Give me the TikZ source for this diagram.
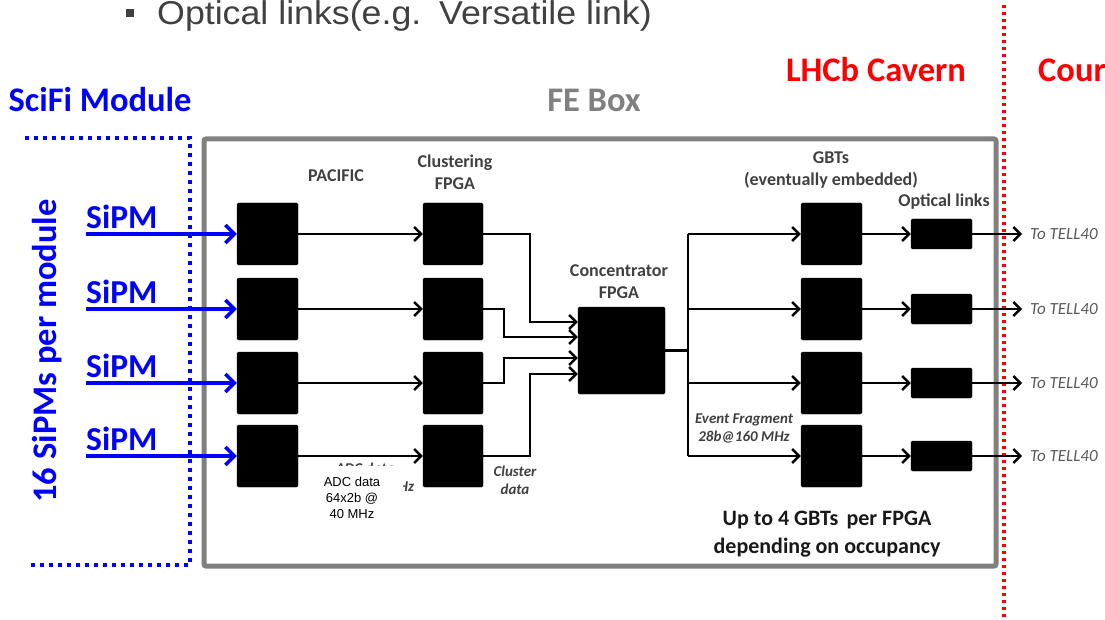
\documentclass[tikz,border=0pt]{standalone}
\usepackage{graphicx}
\usepackage{fontspec}
\setmainfont{Carlito}
\newfontfamily\arialfont{Liberation Sans}
\usetikzlibrary{arrows.meta,calc}

\definecolor{sipmblue}{RGB}{0,0,255}
\definecolor{cavernred}{RGB}{255,0,0}
\definecolor{boxgray}{RGB}{128,128,128}
\definecolor{labelgray}{RGB}{64,64,64}
\definecolor{tellgray}{RGB}{89,89,89}

\tikzset{
  chip/.style={fill=black,draw=black,rounded corners=1.5pt,minimum width=61pt,minimum height=62pt,inner sep=0pt},
  olink/.style={chip,minimum height=30pt},
  sig/.style={line width=2.4pt,-{Straight Barb[length=7pt,width=14pt]}},
  sipmarrow/.style={sipmblue,line width=3.5pt,-{Straight Barb[length=9pt,width=18pt]}},
  title/.style={font=\bfseries\fontsize{34.5}{38}\selectfont},
  lbl/.style={font=\bfseries\fontsize{18}{22}\selectfont,text=labelgray,align=center},
  note/.style={font=\bfseries\itshape\fontsize{15}{18}\selectfont,text=labelgray,align=center},
}

\begin{document}
\begin{tikzpicture}[x=1pt,y=-1pt]
  \useasboundingbox (0,0) rectangle (1105,620);
  % frames
  \draw[boxgray,line width=5pt,rounded corners=2pt] (204,139) rectangle (996,566);
  \draw[sipmblue,line width=4pt,dash pattern=on 4pt off 5pt] (25,138) -- (190,138) -- (190,565) -- (28,565);
  \draw[cavernred,line width=3.5pt,dash pattern=on 3pt off 4pt] (1004,5) -- (1004,620);

  % headings
  \node[fill=labelgray,minimum size=8pt,inner sep=0pt] (bullet) at (130,13) {};
  \node[anchor=base west,inner sep=0pt,text=labelgray,font=\arialfont\fontsize{33}{38}\selectfont] (toptext) at (157,25) {\scalebox{1.083}[1]{Optical links(e.g.\hspace{0.5em}Versatile link)}};
  \node[title,text=sipmblue,anchor=west] (scifi) at (5,100) {SciFi Module};
  \node[title,text=boxgray] (febox) at (594,100) {FE Box};
  \node[title,text=cavernred] (cavern) at (876,70) {LHCb Cavern};
  \node[title,text=cavernred,anchor=west,inner sep=0pt] (count) at (1038,70) {Cour};
  \node[title,text=sipmblue,rotate=90] (permod) at (47,351) {16 SiPMs per module};

  % chips in rows
  \foreach \i/\y in {1/234,2/309,3/383,4/456}{
    \node[chip] (pac\i) at (267.5,\y) {};
    \node[chip,minimum width=60pt] (clu\i) at (453,\y) {};
    \node[chip] (gbt\i) at (831.5,\y) {};
    \node[olink] (opt\i) at (941.5,\y) {};
    \node[anchor=south west,inner sep=0pt,text=sipmblue,font=\bfseries\fontsize{33.5}{36}\selectfont] (sipm\i) at (86,\y-5) {SiPM};
    \node[anchor=west,inner sep=0pt,text=tellgray,font=\itshape\fontsize{17}{20}\selectfont] (tell\i) at (1030,\y) {To TELL40};
  }
  \node[chip,minimum width=87pt,minimum height=87pt] (conc) at (621.5,350.5) {};

  % signals
  \foreach \i in {1,...,4}{
    \draw[sipmarrow] (sipm\i.south west |- pac\i.west) -- (pac\i.west);
    \draw[sig] (pac\i.east) -- (clu\i.west);
    \draw[sig] (gbt\i.east) -- (opt\i.west);
    \draw[sig] (opt\i.east) -- ([xshift=-8pt]tell\i.west);
  }
  \foreach \i/\dx/\dy in {1/47/28.5,2/21/13.5,3/21/-7.5,4/47/-23.5}
    \draw[sig] (clu\i.east) -- ++(\dx,0) |- ([yshift=\dy pt]conc.west);
  \coordinate (bus) at ($(conc.east)+(23,0)$);
  \draw[line width=2.4pt] (conc.east) -- (bus);
  \draw[line width=2.4pt] (bus |- gbt1.west) -- (bus |- gbt4.west);
  \foreach \i in {1,...,4}
    \draw[sig] (bus |- gbt\i.west) -- (gbt\i.west);

  % labels
  \node[lbl] (paclbl) at (336,176) {PACIFIC};
  \node[lbl] (clulbl) at (455,172) {Clustering\\FPGA};
  \node[lbl] (conclbl) at (619,282) {Concentrator\\FPGA};
  \node[lbl] (gbtlbl) at (831,170) {GBTs\\(eventually embedded)};
  \node[lbl] (optlbl) at (944,202) {Optical links};
  \node[note] (evtlbl) at (744,428) {Event Fragment\\28b@160 MHz};
  \node[note] (cldlbl) at (515,480) {Cluster\\data};
  \node[note] (adcold) at (365,478) {ADC data\\64x2b@40 MHz};
  \fill[white] (305,466) rectangle (403,525);
  \node[font=\arialfont\fontsize{13}{16}\selectfont,align=center,inner sep=0pt] (adclbl) at (352,498) {ADC data\\64x2b @\\40 MHz};
  \node[font=\bfseries\fontsize{22}{28}\selectfont,align=center,text=black!90] (uplbl) at (827,534) {Up to 4 GBTs\hspace{0.15em} per FPGA\\depending on occupancy};
\end{tikzpicture}
\end{document}
